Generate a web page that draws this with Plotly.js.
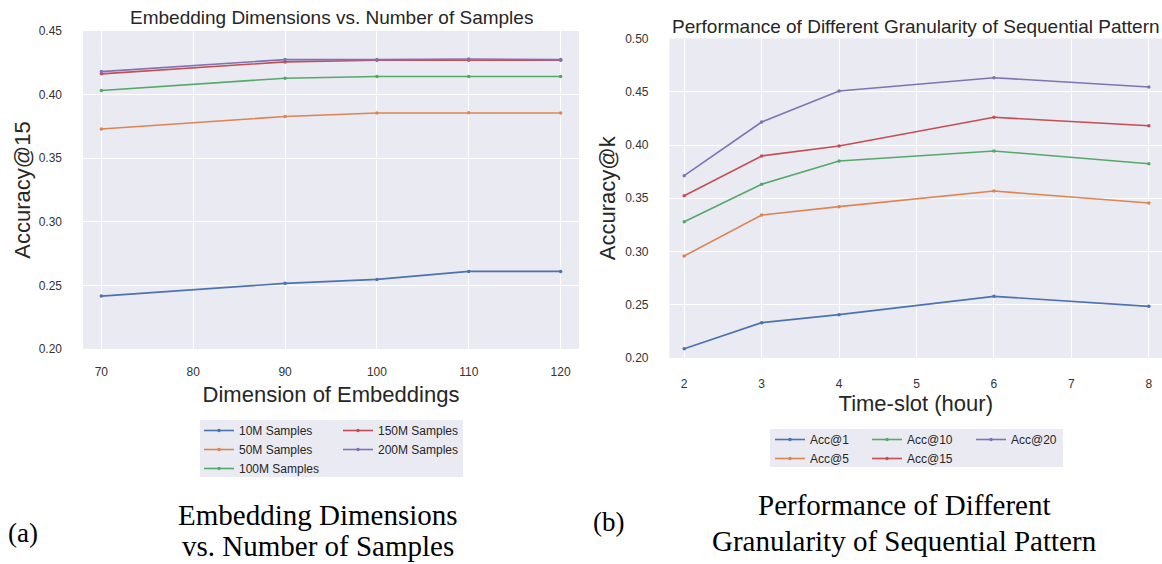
<!DOCTYPE html>
<html>
<head>
<meta charset="utf-8">
<script src="https://cdn.plot.ly/plotly-3.0.1.min.js"></script>
<style>
html, body { margin: 0; padding: 0; background: #ffffff; }
#chart { width: 1162px; height: 564px; }
</style>
</head>
<body>
<div id="chart"></div>
<script>
// ---- Chart (a): Embedding dimensions vs. number of samples ----
const embeddingDims = [70, 90, 100, 110, 120];
const samples10M  = [0.2416, 0.2516, 0.2547, 0.2610, 0.2610];
const samples50M  = [0.3729, 0.3828, 0.3855, 0.3857, 0.3855];
const samples100M = [0.4032, 0.4129, 0.4142, 0.4142, 0.4142];
const samples150M = [0.4163, 0.4257, 0.4270, 0.4270, 0.4270];
const samples200M = [0.4181, 0.4275, 0.4275, 0.4280, 0.4275];
const sampleNames = ['10M Samples', '50M Samples', '100M Samples', '150M Samples', '200M Samples'];

// ---- Chart (b): granularity of sequential pattern ----
const timeSlots = [2, 3, 4, 6, 8];
const acc1  = [0.2087, 0.2332, 0.2407, 0.2579, 0.2485];
const acc5  = [0.2958, 0.3343, 0.3421, 0.3568, 0.3455];
const acc10 = [0.3280, 0.3631, 0.3850, 0.3944, 0.3824];
const acc15 = [0.3524, 0.3897, 0.3991, 0.4260, 0.4181];
const acc20 = [0.3712, 0.4216, 0.4507, 0.4632, 0.4545];
const accNames = ['Acc@1', 'Acc@5', 'Acc@10', 'Acc@15', 'Acc@20'];

const palette = ['#4c72b0', '#dd8452', '#55a868', '#c44e52', '#8172b3'];

const W = 1162, H = 564;
const px = v => v / W;
const py = v => 1 - v / H;

function mk(x, y, name, color, xa, ya, legend) {
  return {
    type: 'scatter', mode: 'lines+markers', x: x, y: y, name: name,
    xaxis: xa, yaxis: ya, legend: legend,
    line: { color: color, width: 1.6 },
    marker: { color: color, size: 3.5 }
  };
}

const seriesA = [samples10M, samples50M, samples100M, samples150M, samples200M];
const legendsA = ['legend', 'legend', 'legend', 'legend2', 'legend2'];
const seriesB = [acc1, acc5, acc10, acc15, acc20];
const legendsB = ['legend3', 'legend3', 'legend4', 'legend4', 'legend5'];

const traces = [];
seriesA.forEach((s, i) => traces.push(mk(embeddingDims, s, sampleNames[i], palette[i], 'x', 'y', legendsA[i])));
seriesB.forEach((s, i) => traces.push(mk(timeSlots, s, accNames[i], palette[i], 'x2', 'y2', legendsB[i])));

const sans = 'Liberation Sans, Arial, Helvetica, sans-serif';
const serif = 'Liberation Serif, Times New Roman, serif';
const tickFont = { family: sans, size: 12, color: '#333333' };

const axisCommon = {
  showline: false, zeroline: false, ticks: '', gridcolor: '#ffffff', gridwidth: 1,
  tickfont: tickFont, fixedrange: true
};

const legendCommon = {
  orientation: 'v', bgcolor: 'rgba(0,0,0,0)', borderwidth: 0,
  font: { family: sans, size: 12, color: '#262626' },
  xanchor: 'left', yanchor: 'top', itemwidth: 30, tracegroupgap: 0
};

const layout = {
  width: W, height: H,
  margin: { l: 0, r: 0, t: 0, b: 0 },
  paper_bgcolor: '#ffffff',
  plot_bgcolor: '#eaeaf2',
  showlegend: true,
  xaxis: Object.assign({}, axisCommon, {
    domain: [px(83), px(579)], range: [68, 122], dtick: 10, tick0: 0, anchor: 'y',
    ticklabelstandoff: 14,
    title: { text: 'Dimension of Embeddings', font: { family: sans, size: 22, color: '#262626' }, standoff: 8 }
  }),
  yaxis: Object.assign({}, axisCommon, {
    domain: [py(349), py(31)], range: [0.2, 0.45], dtick: 0.05, tick0: 0, tickformat: '.2f', anchor: 'x',
    ticklabelstandoff: 20,
    title: { text: 'Accuracy@15', font: { family: sans, size: 22, color: '#262626' }, standoff: 1 }
  }),
  xaxis2: Object.assign({}, axisCommon, {
    domain: [px(669.5), 1], range: [1.81, 8.17], dtick: 1, tick0: 0, anchor: 'y2',
    ticklabelstandoff: 17,
    title: { text: 'Time-slot (hour)', font: { family: sans, size: 22, color: '#262626' }, standoff: 5 }
  }),
  yaxis2: Object.assign({}, axisCommon, {
    domain: [py(358), py(38.5)], range: [0.2, 0.5], dtick: 0.05, tick0: 0, tickformat: '.2f', anchor: 'x2',
    ticklabelstandoff: 20,
    title: { text: 'Accuracy@k', font: { family: sans, size: 22, color: '#262626' }, standoff: 3 }
  }),
  legend:  Object.assign({}, legendCommon, { x: px(199), y: py(416) }),
  legend2: Object.assign({}, legendCommon, { x: px(338), y: py(416) }),
  legend3: Object.assign({}, legendCommon, { x: px(770), y: py(425) }),
  legend4: Object.assign({}, legendCommon, { x: px(867), y: py(425) }),
  legend5: Object.assign({}, legendCommon, { x: px(971), y: py(425) }),
  shapes: [
    { type: 'rect', xref: 'paper', yref: 'paper', x0: px(200), x1: px(463), y0: py(477), y1: py(420),
      fillcolor: '#eaeaf2', line: { width: 0 }, layer: 'below' },
    { type: 'rect', xref: 'paper', yref: 'paper', x0: px(770), x1: px(1063), y0: py(467), y1: py(429),
      fillcolor: '#eaeaf2', line: { width: 0 }, layer: 'below' }
  ],
  annotations: [
    { text: 'Embedding Dimensions vs. Number of Samples', xref: 'paper', yref: 'paper',
      x: px(331), y: py(17), xanchor: 'center', yanchor: 'middle', showarrow: false,
      font: { family: sans, size: 19, color: '#262626' } },
    { text: 'Performance of Different Granularity of Sequential Pattern', xref: 'paper', yref: 'paper',
      x: px(916), y: py(27), xanchor: 'center', yanchor: 'middle', showarrow: false,
      font: { family: sans, size: 19, color: '#262626' } },
    { text: '(a)', xref: 'paper', yref: 'paper', x: px(6), y: py(533), xanchor: 'left', yanchor: 'middle',
      showarrow: false, font: { family: serif, size: 27, color: '#000000' } },
    { text: 'Embedding Dimensions', xref: 'paper', yref: 'paper', x: px(318), y: py(515), xanchor: 'center', yanchor: 'middle',
      showarrow: false, font: { family: serif, size: 29, color: '#000000' } },
    { text: 'vs. Number of Samples', xref: 'paper', yref: 'paper', x: px(318), y: 0, xanchor: 'center', yanchor: 'bottom',
      showarrow: false, font: { family: serif, size: 29, color: '#000000' } },
    { text: '(b)', xref: 'paper', yref: 'paper', x: px(591), y: py(522), xanchor: 'left', yanchor: 'middle',
      showarrow: false, font: { family: serif, size: 27, color: '#000000' } },
    { text: 'Performance of Different', xref: 'paper', yref: 'paper', x: px(904), y: py(505), xanchor: 'center', yanchor: 'middle',
      showarrow: false, font: { family: serif, size: 29, color: '#000000' } },
    { text: 'Granularity of Sequential Pattern', xref: 'paper', yref: 'paper', x: px(904), y: py(541), xanchor: 'center', yanchor: 'middle',
      showarrow: false, font: { family: serif, size: 29, color: '#000000' } }
  ]
};

Plotly.newPlot('chart', traces, layout, { displayModeBar: false, staticPlot: true });
</script>
</body>
</html>
